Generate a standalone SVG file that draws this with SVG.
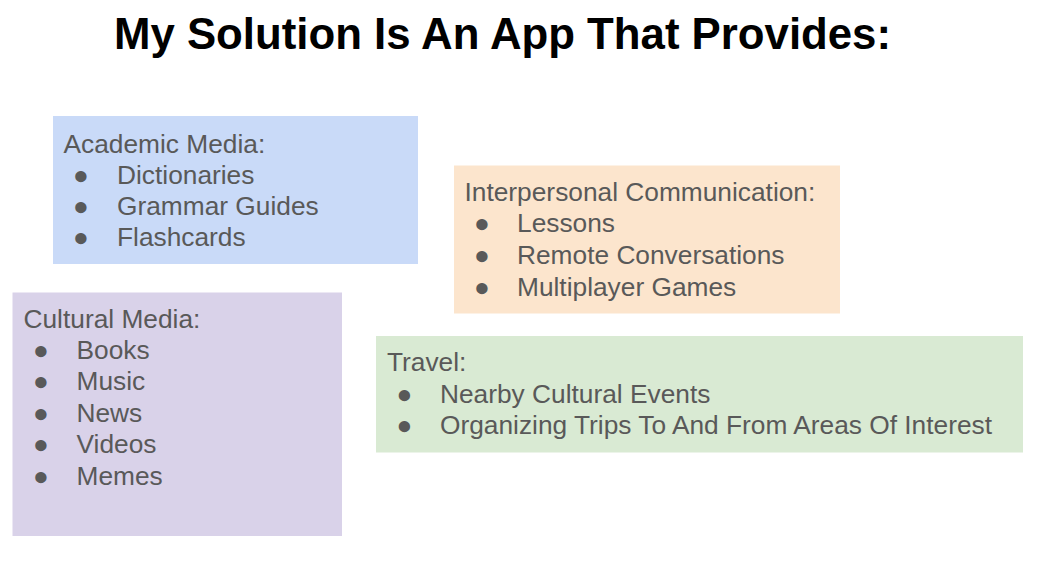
<svg xmlns="http://www.w3.org/2000/svg" width="1045" height="563" viewBox="0 0 1045 563">
<style>
.t{font-family:"Liberation Sans",Arial,sans-serif;font-size:26.3px;fill:#595959}
.h{font-family:"Liberation Sans",Arial,sans-serif;font-size:45px;font-weight:bold;fill:#000}
</style>
<rect width="1045" height="563" fill="#fff"/>
<text id="title" class="h" x="114" y="49" textLength="777" lengthAdjust="spacingAndGlyphs">My Solution Is An App That Provides:</text>
<g id="academic">
<rect x="53" y="116" width="365" height="148" fill="#c9daf8"/>
<text class="t" x="63.5" y="152.5">Academic Media:</text>
<text class="t" x="73" y="183.5">●</text><text class="t" x="117" y="183.5">Dictionaries</text>
<text class="t" x="73" y="214.8">●</text><text class="t" x="117" y="214.8">Grammar Guides</text>
<text class="t" x="73" y="246">●</text><text class="t" x="117" y="246">Flashcards</text>
</g>
<g id="interpersonal">
<rect x="454" y="165.5" width="386" height="148" fill="#fce5cd"/>
<text class="t" x="464.5" y="201">Interpersonal Communication:</text>
<text class="t" x="474" y="232.3">●</text><text class="t" x="517" y="232.3">Lessons</text>
<text class="t" x="474" y="263.8">●</text><text class="t" x="517" y="263.8">Remote Conversations</text>
<text class="t" x="474" y="295.5">●</text><text class="t" x="517" y="295.5">Multiplayer Games</text>
</g>
<g id="cultural">
<rect x="12.5" y="292.5" width="329.5" height="243.5" fill="#d9d2e9"/>
<text class="t" x="23.5" y="327.5">Cultural Media:</text>
<text class="t" x="33" y="358.5">●</text><text class="t" x="76.5" y="358.5">Books</text>
<text class="t" x="33" y="390.3">●</text><text class="t" x="76.5" y="390.3">Music</text>
<text class="t" x="33" y="421.7">●</text><text class="t" x="76.5" y="421.7">News</text>
<text class="t" x="33" y="453">●</text><text class="t" x="76.5" y="453">Videos</text>
<text class="t" x="33" y="484.5">●</text><text class="t" x="76.5" y="484.5">Memes</text>
</g>
<g id="travel">
<rect x="376" y="336" width="647" height="116.5" fill="#d9ead3"/>
<text class="t" x="387" y="371">Travel:</text>
<text class="t" x="396.5" y="402.5">●</text><text class="t" x="440" y="402.5">Nearby Cultural Events</text>
<text class="t" x="396.5" y="434.3">●</text><text class="t" x="440" y="434.3">Organizing Trips To And From Areas Of Interest</text>
</g>
<g id="connectors"/>
</svg>
